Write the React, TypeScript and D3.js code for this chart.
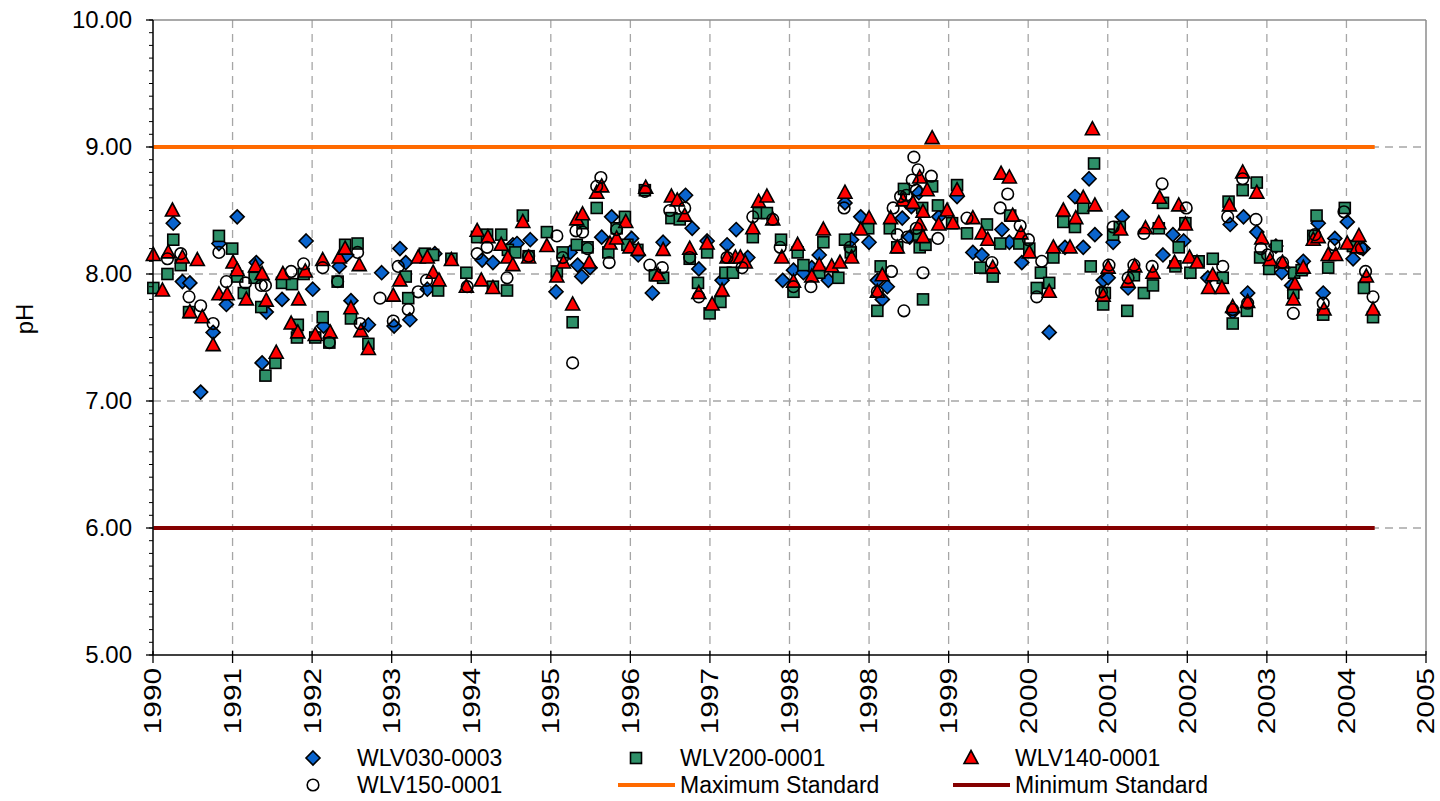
import React from "react";
import * as d3 from "d3";

// ---------- axis definitions ----------
const X_START = 1990.356; // axis minimum, decimal year
const X_STEP = 0.95825; // major unit (350 days) in years
const X_TICK_LABELS = ["1990", "1991", "1992", "1993", "1994", "1995", "1996", "1997", "1998", "1998", "1999", "2000", "2001", "2002", "2003", "2004", "2005"];
const Y_TICKS = [5, 6, 7, 8, 9, 10];
const Y_LABEL = "pH";

// ---------- standards ----------
const STANDARD_PERIOD = [1990.36, 2005.07];
const MAX_STANDARD = 9.0;
const MIN_STANDARD = 6.0;

// ---------- series: [decimal year, pH] ----------
const WLV030_0003: [number, number][] = [
  [1990.60, 8.40], [1990.71, 7.94], [1990.80, 7.93], [1990.93, 7.07], [1991.08, 7.54], [1991.15, 8.24], [1991.24, 7.76], [1991.37, 8.45],
  [1991.60, 8.09], [1991.67, 7.30], [1991.72, 7.70], [1991.91, 7.80], [1992.20, 8.26], [1992.28, 7.88], [1992.41, 7.59], [1992.60, 8.06],
  [1992.69, 8.15], [1992.74, 7.79], [1992.95, 7.60], [1993.11, 8.01], [1993.26, 7.59], [1993.33, 8.20], [1993.40, 8.09], [1993.45, 7.64],
  [1993.66, 7.88], [1993.75, 8.16], [1994.32, 8.11], [1994.45, 8.09], [1994.69, 8.23], [1994.74, 8.24], [1994.90, 8.27], [1995.21, 7.86],
  [1995.38, 8.17], [1995.47, 8.07], [1995.52, 7.98], [1995.62, 8.05], [1995.76, 8.29], [1995.88, 8.45], [1996.12, 8.28], [1996.20, 8.15],
  [1996.37, 7.85], [1996.50, 8.25], [1996.77, 8.62], [1996.85, 8.36], [1996.93, 8.04], [1997.03, 8.26], [1997.21, 7.95], [1997.27, 8.23],
  [1997.38, 8.35], [1997.52, 8.13], [1997.94, 7.95], [1998.07, 8.03], [1998.19, 8.01], [1998.29, 8.05], [1998.38, 8.15], [1998.49, 7.95],
  [1998.69, 8.56], [1998.77, 8.27], [1998.88, 8.45], [1998.98, 8.25], [1999.08, 7.95], [1999.14, 7.80], [1999.20, 7.90], [1999.38, 8.44],
  [1999.47, 8.29], [1999.49, 8.53], [1999.58, 8.64], [1999.82, 8.45], [2000.04, 8.61], [2000.23, 8.17], [2000.34, 8.15], [2000.58, 8.35],
  [2000.67, 8.25], [2000.82, 8.09], [2001.15, 7.54], [2001.34, 8.21], [2001.46, 8.61], [2001.56, 8.21], [2001.63, 8.75], [2001.70, 8.31],
  [2001.80, 7.95], [2001.86, 7.97], [2001.92, 8.25], [2002.03, 8.45], [2002.10, 7.89], [2002.52, 8.15], [2002.64, 8.31], [2002.77, 8.26],
  [2003.06, 7.97], [2003.33, 8.39], [2003.36, 7.70], [2003.49, 8.45], [2003.54, 7.85], [2003.65, 8.33], [2003.88, 8.22], [2003.95, 8.01],
  [2004.07, 7.91], [2004.21, 8.10], [2004.39, 8.40], [2004.45, 7.85], [2004.59, 8.28], [2004.74, 8.41], [2004.81, 8.12], [2004.93, 8.20],
];

const WLV200_0001: [number, number][] = [
  [1990.36, 7.89], [1990.53, 8.00], [1990.60, 8.27], [1990.69, 8.07], [1990.79, 7.70], [1991.15, 8.30], [1991.31, 8.20], [1991.37, 7.98],
  [1991.45, 7.85], [1991.58, 7.97], [1991.66, 7.74], [1991.71, 7.20], [1991.83, 7.30], [1991.91, 7.93], [1992.03, 7.92], [1992.10, 7.60],
  [1992.09, 7.50], [1992.17, 8.00], [1992.31, 7.50], [1992.40, 7.66], [1992.48, 7.46], [1992.58, 7.94], [1992.67, 8.23], [1992.82, 8.24],
  [1992.74, 7.65], [1992.95, 7.45], [1993.40, 7.98], [1993.43, 7.81], [1993.63, 8.16], [1993.73, 8.15], [1993.79, 7.87], [1993.95, 8.12],
  [1994.13, 8.01], [1994.26, 8.29], [1994.38, 8.31], [1994.45, 7.90], [1994.55, 8.31], [1994.62, 7.87], [1994.63, 8.19], [1994.72, 8.17],
  [1994.81, 8.46], [1994.88, 8.14], [1995.10, 8.33], [1995.22, 8.02], [1995.29, 8.17], [1995.41, 7.62], [1995.46, 8.23], [1995.53, 8.40],
  [1995.59, 8.21], [1995.70, 8.52], [1995.84, 8.17], [1995.94, 8.36], [1996.04, 8.45], [1996.07, 8.23], [1996.19, 8.19], [1996.28, 8.66],
  [1996.40, 7.99], [1996.50, 7.97], [1996.60, 8.44], [1996.70, 8.43], [1996.82, 8.12], [1996.92, 7.93], [1997.03, 8.17], [1997.06, 7.69],
  [1997.19, 7.78], [1997.25, 8.01], [1997.34, 8.01], [1997.58, 8.29], [1997.65, 8.48], [1997.75, 8.48], [1997.92, 8.27], [1998.07, 7.86],
  [1998.12, 8.17], [1998.19, 8.07], [1998.38, 8.01], [1998.43, 8.25], [1998.61, 7.97], [1998.69, 8.27], [1998.76, 8.17], [1998.97, 8.36],
  [1999.08, 7.71], [1999.12, 8.06], [1999.23, 8.36], [1999.32, 8.21], [1999.40, 8.67], [1999.58, 8.31], [1999.59, 8.21], [1999.62, 8.52],
  [1999.63, 7.80], [1999.66, 8.23], [1999.74, 8.69], [1999.81, 8.54], [1999.98, 8.40], [2000.04, 8.70], [2000.16, 8.32], [2000.32, 8.05],
  [2000.40, 8.39], [2000.47, 7.98], [2000.56, 8.24], [2000.68, 8.46], [2000.79, 8.24], [2000.91, 8.20], [2001.00, 7.89], [2001.05, 8.01],
  [2001.15, 7.93], [2001.20, 8.13], [2001.32, 8.41], [2001.46, 8.37], [2001.56, 8.52], [2001.65, 8.06], [2001.69, 8.87], [2001.82, 7.85],
  [2001.80, 7.76], [2001.92, 8.31], [2002.00, 8.37], [2002.09, 7.71], [2002.17, 7.99], [2002.29, 7.85], [2002.40, 7.91], [2002.47, 8.36],
  [2002.52, 8.56], [2002.67, 8.06], [2002.71, 8.21], [2002.79, 8.40], [2002.85, 8.01], [2002.95, 8.10], [2003.12, 8.12], [2003.24, 7.97],
  [2003.31, 8.57], [2003.36, 7.61], [2003.48, 8.66], [2003.53, 7.71], [2003.65, 8.72], [2003.69, 8.13], [2003.80, 8.04], [2003.89, 8.22],
  [2004.09, 7.85], [2004.10, 8.01], [2004.19, 8.03], [2004.33, 8.30], [2004.37, 8.46], [2004.45, 7.68], [2004.51, 8.05], [2004.71, 8.52],
  [2004.81, 8.22], [2004.94, 7.89], [2005.05, 7.66],
];

const WLV140_0001: [number, number][] = [
  [1990.36, 8.15], [1990.47, 7.87], [1990.54, 8.17], [1990.59, 8.50], [1990.71, 8.13], [1990.80, 7.70], [1990.89, 8.11], [1990.95, 7.66],
  [1991.08, 7.44], [1991.15, 7.84], [1991.25, 7.84], [1991.32, 8.09], [1991.37, 8.03], [1991.48, 7.80], [1991.59, 8.06], [1991.67, 8.00],
  [1991.72, 7.79], [1991.84, 7.38], [1991.92, 8.00], [1992.02, 7.61], [1992.11, 7.80], [1992.19, 8.02], [1992.10, 7.54], [1992.31, 7.52],
  [1992.40, 8.11], [1992.49, 7.54], [1992.60, 8.13], [1992.67, 8.20], [1992.74, 7.73], [1992.84, 8.07], [1992.86, 7.55], [1992.95, 7.41],
  [1993.25, 7.83], [1993.33, 7.95], [1993.55, 8.13], [1993.66, 8.13], [1993.73, 8.01], [1993.80, 7.95], [1993.95, 8.11], [1994.13, 7.90],
  [1994.26, 8.34], [1994.31, 7.95], [1994.39, 8.29], [1994.45, 7.89], [1994.55, 8.23], [1994.63, 8.13], [1994.69, 8.07], [1994.81, 8.41],
  [1994.88, 8.13], [1995.10, 8.22], [1995.22, 7.98], [1995.30, 8.09], [1995.41, 7.76], [1995.46, 8.43], [1995.53, 8.47], [1995.61, 8.09],
  [1995.70, 8.64], [1995.76, 8.69], [1995.86, 8.24], [1995.94, 8.28], [1996.05, 8.41], [1996.10, 8.21], [1996.20, 8.19], [1996.29, 8.68],
  [1996.44, 7.99], [1996.50, 8.19], [1996.60, 8.61], [1996.67, 8.58], [1996.76, 8.46], [1996.82, 8.20], [1996.93, 7.85], [1997.03, 8.24],
  [1997.09, 7.76], [1997.21, 7.87], [1997.27, 8.13], [1997.37, 8.13], [1997.43, 8.13], [1997.49, 8.09], [1997.58, 8.36], [1997.65, 8.57],
  [1997.75, 8.61], [1997.82, 8.43], [1997.93, 8.13], [1998.07, 7.94], [1998.12, 8.23], [1998.29, 7.98], [1998.38, 8.07], [1998.43, 8.35],
  [1998.53, 8.06], [1998.63, 8.09], [1998.69, 8.64], [1998.77, 8.13], [1998.88, 8.35], [1998.98, 8.44], [1999.08, 7.86], [1999.14, 7.99],
  [1999.24, 8.44], [1999.32, 8.21], [1999.39, 8.58], [1999.51, 8.56], [1999.59, 8.76], [1999.59, 8.39], [1999.63, 8.49], [1999.63, 8.29],
  [1999.68, 8.66], [1999.74, 9.07], [1999.82, 8.39], [1999.92, 8.50], [1999.99, 8.40], [2000.04, 8.66], [2000.23, 8.44], [2000.34, 8.32],
  [2000.41, 8.27], [2000.47, 8.05], [2000.57, 8.79], [2000.67, 8.76], [2000.71, 8.46], [2000.81, 8.32], [2000.91, 8.17], [2001.15, 7.86],
  [2001.20, 8.21], [2001.32, 8.50], [2001.40, 8.21], [2001.47, 8.44], [2001.56, 8.60], [2001.67, 9.14], [2001.70, 8.54], [2001.80, 7.83],
  [2001.86, 8.05], [2002.01, 8.35], [2002.10, 7.94], [2002.18, 8.06], [2002.31, 8.36], [2002.40, 8.01], [2002.47, 8.40], [2002.48, 8.60],
  [2002.66, 8.09], [2002.71, 8.54], [2002.79, 8.39], [2002.84, 8.13], [2002.93, 8.09], [2003.07, 7.89], [2003.12, 7.99], [2003.23, 7.89],
  [2003.32, 8.54], [2003.36, 7.74], [2003.48, 8.80], [2003.54, 7.78], [2003.65, 8.64], [2003.71, 8.28], [2003.81, 8.11], [2003.96, 8.09],
  [2004.11, 7.92], [2004.09, 7.80], [2004.21, 8.05], [2004.33, 8.27], [2004.39, 8.29], [2004.46, 7.72], [2004.51, 8.15], [2004.60, 8.15],
  [2004.74, 8.24], [2004.86, 8.21], [2004.88, 8.30], [2004.97, 7.98], [2005.05, 7.72],
];

const WLV150_0001: [number, number][] = [
  [1990.53, 8.12], [1990.69, 8.16], [1990.79, 7.82], [1990.93, 7.75], [1991.08, 7.61], [1991.15, 8.17], [1991.24, 7.94], [1991.47, 7.93],
  [1991.66, 7.91], [1991.71, 7.91], [1992.02, 8.02], [1992.17, 8.08], [1992.40, 8.05], [1992.48, 7.46], [1992.58, 7.94], [1992.82, 8.17],
  [1992.85, 7.61], [1993.09, 7.81], [1993.25, 7.63], [1993.31, 8.06], [1993.43, 7.72], [1993.55, 7.86], [1993.65, 7.95], [1994.14, 7.90],
  [1994.26, 8.16], [1994.38, 8.21], [1994.62, 7.97], [1994.88, 8.14], [1995.22, 8.30], [1995.29, 8.13], [1995.41, 7.30], [1995.45, 8.34],
  [1995.53, 8.33], [1995.59, 8.20], [1995.75, 8.76], [1995.70, 8.69], [1995.85, 8.09], [1995.94, 8.35], [1996.28, 8.65], [1996.34, 8.07],
  [1996.49, 8.05], [1996.58, 8.50], [1996.76, 8.52], [1996.82, 8.13], [1996.93, 7.82], [1997.27, 8.13], [1997.45, 8.05], [1997.58, 8.45],
  [1997.82, 8.43], [1997.91, 8.21], [1998.07, 7.90], [1998.28, 7.90], [1998.75, 8.21], [1998.68, 8.52], [1999.08, 7.86], [1999.25, 8.02],
  [1999.40, 7.71], [1999.63, 8.01], [1999.27, 8.52], [1999.36, 8.61], [1999.43, 8.62], [1999.52, 8.92], [1999.57, 8.82], [1999.50, 8.74],
  [1999.55, 8.66], [1999.73, 8.77], [1999.32, 8.31], [1999.44, 8.29], [1999.55, 8.36], [1999.81, 8.28], [2000.16, 8.44], [2000.46, 8.09],
  [2000.56, 8.52], [2000.65, 8.63], [2000.80, 8.38], [2000.90, 8.27], [2001.06, 8.10], [2001.00, 7.82], [2001.78, 7.86], [2001.87, 8.07],
  [2001.92, 8.37], [2002.10, 7.97], [2002.17, 8.07], [2002.29, 8.32], [2002.39, 8.06], [2002.51, 8.71], [2002.80, 8.52], [2003.24, 8.06],
  [2003.30, 8.45], [2003.36, 7.72], [2003.48, 8.75], [2003.54, 7.77], [2003.64, 8.43], [2003.70, 8.20], [2003.78, 8.15], [2003.96, 8.09],
  [2004.09, 7.69], [2004.35, 8.31], [2004.45, 7.77], [2004.58, 8.23], [2004.70, 8.49], [2004.91, 8.20], [2004.96, 8.02], [2005.05, 7.82],
];

// ---------- layout ----------
const W = 1440;
const H = 801;
const M = { left: 153, right: 1426, top: 20, bottom: 655 };
const FONT = "'Liberation Sans', Arial, sans-serif";
const FS = 24;
const LEGEND_FS = 23;
const X_LABEL_STRETCH = 1.24;

const BLUE = "#0A64CD";
const GREEN = "#2E9068";
const RED = "#FF0000";
const ORANGE = "#FF6A00";
const DARKRED = "#850000";
const GRID = "#A6A6A6";

type Shape = "diamond" | "square" | "triangle" | "circle";

function Marker({ shape, x, y, fill }: { shape: Shape; x: number; y: number; fill: string }) {
  const sw = 1.6;
  if (shape === "diamond") {
    const r = 7;
    return <path d={`M${x},${y - r}L${x + r},${y}L${x},${y + r}L${x - r},${y}Z`} fill={fill} stroke="#000" strokeWidth={sw} />;
  }
  if (shape === "square") {
    const s = 5.5;
    return <rect x={x - s} y={y - s} width={2 * s} height={2 * s} fill={fill} stroke="#000" strokeWidth={sw} />;
  }
  if (shape === "triangle") {
    const w = 7, h = 6.5;
    return <path d={`M${x},${y - h - 1}L${x + w},${y + h - 1}L${x - w},${y + h - 1}Z`} fill={fill} stroke="#000" strokeWidth={sw} strokeLinejoin="miter" />;
  }
  return <circle cx={x} cy={y} r={5.8} fill={fill} stroke="#000" strokeWidth={sw} />;
}

export default function App() {
  const nTicks = X_TICK_LABELS.length;
  const xScale = d3.scaleLinear().domain([X_START, X_START + (nTicks - 1) * X_STEP]).range([M.left, M.right]);
  const yScale = d3.scaleLinear().domain([5, 10]).range([M.bottom, M.top]);
  const xTicks = d3.range(nTicks).map((i) => X_START + i * X_STEP);
  const minorY = d3.range(50, 101).map((v) => v / 10);

  const series: { name: string; data: [number, number][]; shape: Shape; fill: string }[] = [
    { name: "WLV030-0003", data: WLV030_0003, shape: "diamond", fill: BLUE },
    { name: "WLV200-0001", data: WLV200_0001, shape: "square", fill: GREEN },
    { name: "WLV140-0001", data: WLV140_0001, shape: "triangle", fill: RED },
    { name: "WLV150-0001", data: WLV150_0001, shape: "circle", fill: "none" },
  ];

  const line = d3.line<[number, number]>().x((d) => xScale(d[0])).y((d) => yScale(d[1]));
  const maxLine: [number, number][] = STANDARD_PERIOD.map((t) => [t, MAX_STANDARD]);
  const minLine: [number, number][] = STANDARD_PERIOD.map((t) => [t, MIN_STANDARD]);

  const legendItems = [
    { label: "WLV030-0003", kind: "diamond", col: 0, row: 0 },
    { label: "WLV200-0001", kind: "square", col: 1, row: 0 },
    { label: "WLV140-0001", kind: "triangle", col: 2, row: 0 },
    { label: "WLV150-0001", kind: "circle", col: 0, row: 1 },
    { label: "Maximum Standard", kind: "max", col: 1, row: 1 },
    { label: "Minimum Standard", kind: "min", col: 2, row: 1 },
  ];
  const legendTextX = [357, 680, 1015];
  const legendRowY = [758, 785];

  return (
    <svg width={W} height={H} style={{ position: "absolute", left: 0, top: 0, background: "#fff" }} fontFamily={FONT}>
      {/* horizontal gridlines */}
      {Y_TICKS.filter((v) => v > 5 && v < 10).map((v) => (
        <line key={"hg" + v} x1={M.left} x2={M.right} y1={yScale(v)} y2={yScale(v)} stroke={GRID} strokeWidth={1.3} strokeDasharray="8,6" />
      ))}
      {/* vertical gridlines */}
      {xTicks.slice(1, -1).map((t, i) => (
        <line key={"vg" + i} x1={xScale(t)} x2={xScale(t)} y1={M.top} y2={M.bottom} stroke={GRID} strokeWidth={1.3} strokeDasharray="8,6" />
      ))}
      {/* plot border top & right */}
      <line x1={M.left} x2={M.right} y1={M.top} y2={M.top} stroke="#8C8C8C" strokeWidth={1.5} />
      <line x1={M.right} x2={M.right} y1={M.top} y2={M.bottom} stroke="#8C8C8C" strokeWidth={1.5} />

      {/* markers */}
      {series.map((s) => (
        <g key={s.name}>
          {s.data.map((d, i) => (
            <Marker key={i} shape={s.shape} x={xScale(d[0])} y={yScale(d[1])} fill={s.fill} />
          ))}
        </g>
      ))}

      {/* standard lines */}
      <path d={line(maxLine) || ""} stroke={ORANGE} strokeWidth={4} fill="none" />
      <path d={line(minLine) || ""} stroke={DARKRED} strokeWidth={4} fill="none" />

      {/* y axis */}
      <line x1={M.left} x2={M.left} y1={M.top} y2={M.bottom} stroke="#000" strokeWidth={1.5} />
      {minorY.map((v) => (
        <line key={"my" + v} x1={M.left - 4} x2={M.left} y1={yScale(v)} y2={yScale(v)} stroke="#000" strokeWidth={1} />
      ))}
      {Y_TICKS.map((v) => (
        <g key={"yt" + v}>
          <line x1={M.left - 7} x2={M.left} y1={yScale(v)} y2={yScale(v)} stroke="#000" strokeWidth={1.3} />
          <text x={132} y={yScale(v)} dy="0.35em" textAnchor="end" fontSize={FS} fill="#000">
            {d3.format(".2f")(v)}
          </text>
        </g>
      ))}
      <text transform={`translate(33,319) rotate(-90)`} textAnchor="middle" fontSize={FS} fill="#000">
        {Y_LABEL}
      </text>

      {/* x axis */}
      <line x1={M.left} x2={M.right} y1={M.bottom} y2={M.bottom} stroke="#000" strokeWidth={1.5} />
      {xTicks.map((t, i) => (
        <g key={"xt" + i}>
          <line x1={xScale(t)} x2={xScale(t)} y1={M.bottom - 4} y2={M.bottom + 8} stroke="#000" strokeWidth={1.3} />
          <text
            transform={`translate(${xScale(t)},${M.bottom + 13}) rotate(-90) scale(${X_LABEL_STRETCH},1)`}
            dy="0.35em"
            textAnchor="end"
            fontSize={FS}
            fill="#000"
          >
            {X_TICK_LABELS[i]}
          </text>
        </g>
      ))}

      {/* legend */}
      {legendItems.map((it) => {
        const tx = legendTextX[it.col];
        const y = legendRowY[it.row];
        let sym: React.ReactNode = null;
        if (it.kind === "max" || it.kind === "min") {
          sym = <line x1={tx - 62} x2={tx - 5} y1={y} y2={y} stroke={it.kind === "max" ? ORANGE : DARKRED} strokeWidth={4} />;
        } else {
          const fill = it.kind === "diamond" ? BLUE : it.kind === "square" ? GREEN : it.kind === "triangle" ? RED : "#fff";
          sym = <Marker shape={it.kind as Shape} x={tx - 44} y={y} fill={fill} />;
        }
        return (
          <g key={it.label}>
            {sym}
            <text x={tx} y={y} dy="0.35em" fontSize={LEGEND_FS} fill="#000">
              {it.label}
            </text>
          </g>
        );
      })}
    </svg>
  );
}
